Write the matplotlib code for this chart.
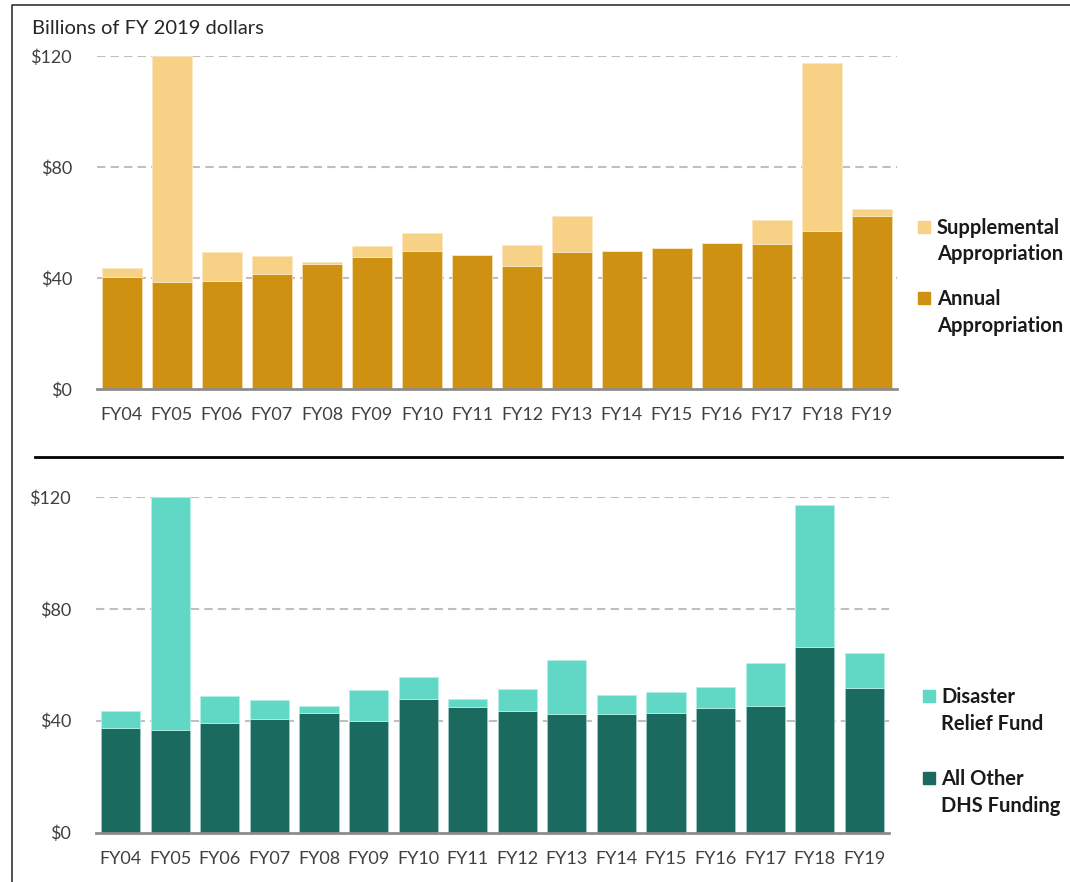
import numpy as np
import matplotlib.pyplot as plt
from matplotlib.patches import Rectangle
from matplotlib.lines import Line2D

plt.rcParams['font.family'] = ['Lato', 'DejaVu Sans']

years = ['FY04', 'FY05', 'FY06', 'FY07', 'FY08', 'FY09', 'FY10', 'FY11',
         'FY12', 'FY13', 'FY14', 'FY15', 'FY16', 'FY17', 'FY18', 'FY19']

# top panel, billions of FY 2019 dollars
annual = [40.3, 38.6, 38.9, 41.6, 45.0, 47.4, 49.6, 48.4,
          44.4, 49.3, 49.6, 50.9, 52.6, 52.3, 56.9, 62.2]
top_total = [43.6, 120.0, 49.3, 47.9, 45.6, 51.4, 56.1, 48.4,
             51.8, 62.2, 49.6, 50.9, 52.6, 60.8, 117.5, 64.8]
supplemental = [t - a for t, a in zip(top_total, annual)]

# bottom panel
other_dhs = [37.2, 36.5, 39.3, 40.6, 42.9, 39.8, 47.9, 44.9,
             43.6, 42.4, 42.4, 42.9, 44.6, 45.3, 66.4, 51.8]
bottom_total = [43.3, 120.0, 48.7, 47.5, 45.3, 50.9, 55.6, 47.9,
                51.3, 61.6, 49.2, 50.4, 52.2, 60.8, 117.1, 64.2]
drf = [t - o for t, o in zip(bottom_total, other_dhs)]

yticks = [0, 40, 80, 120]
ytick_labels = ['$0', '$40', '$80', '$120']

c_supp = '#F7D186'
c_annual = '#CF9111'
c_drf = '#60D8C5'
c_other = '#1B6A5F'
tick_color = '#404040'

W, H = 1070, 882
fig = plt.figure(figsize=(W / 100, H / 100), dpi=100)

ax1 = fig.add_axes([97 / W, 1 - 389 / H, 800 / W, 333 / H])
ax2 = fig.add_axes([96 / W, 1 - 832.5 / H, 793 / W, 335.5 / H])

x = np.arange(len(years))


def style(ax):
    ax.set_xlim(-0.5, len(years) - 0.5)
    ax.set_ylim(0, 120)
    ax.set_yticks(yticks)
    ax.set_yticklabels(ytick_labels)
    ax.set_xticks(x)
    ax.set_xticklabels(years)
    for s in ['top', 'right', 'left']:
        ax.spines[s].set_visible(False)
    ax.spines['bottom'].set_color('#8c8c8c')
    ax.spines['bottom'].set_linewidth(2)
    ax.spines['bottom'].set_zorder(5)
    ax.tick_params(length=0, labelsize=13, colors=tick_color)
    ax.tick_params(axis='y', pad=18)
    ax.tick_params(axis='x', pad=13)
    for v in yticks[1:]:
        ax.axhline(v, color='#bfbfbf', lw=1.5, ls=(0, (4, 2.5)), zorder=0)


bw = 0.79
ax1.bar(x, annual, bw, color=c_annual, edgecolor='#f3dcae', lw=0.6, zorder=2)
ax1.bar(x, supplemental, bw, bottom=annual, color=c_supp, edgecolor='#fbe8c0',
        lw=0.6, zorder=2)
style(ax1)

ax2.bar(x, other_dhs, bw, color=c_other, edgecolor='#9fc9c2', lw=0.6, zorder=2)
ax2.bar(x, drf, bw, bottom=other_dhs, color=c_drf, edgecolor='#b5efe5',
        lw=0.6, zorder=2)
style(ax2)

fig.text(32 / W, 1 - 28 / H, 'Billions of FY 2019 dollars', fontsize=14.5,
         color='#262626', va='center', ha='left')


# legends drawn by hand so the square sits on the first line
def legend_item(px, py, color, lines, gap=19):
    fig.add_artist(Rectangle((px / W, 1 - (py + 6) / H), 12 / W, 12 / H,
                             transform=fig.transFigure, color=color))
    for k, line in enumerate(lines):
        fig.text((px + gap) / W, 1 - (py + 1 + 26.5 * k) / H, line,
                 fontsize=14.5, fontweight='bold', color='#1a1a1a',
                 va='center', ha='left')


legend_item(918, 227, c_supp, ['Supplemental', 'Appropriation'])
legend_item(918, 298, c_annual, ['Annual', 'Appropriation'])
legend_item(923, 696, c_drf, ['Disaster', 'Relief Fund'], gap=18)
legend_item(923, 778, c_other, ['All Other', 'DHS Funding'], gap=18)

# separator and outer frame
fig.add_artist(Line2D([35 / W, 1062 / W], [1 - 456.5 / H, 1 - 456.5 / H],
                      color='black', lw=2, transform=fig.transFigure))
fig.add_artist(Line2D([12 / W, 12 / W, 1070 / W], [0, 1 - 5 / H, 1 - 5 / H],
                      color='#333333', lw=1.2, transform=fig.transFigure))

fig.savefig('out.png', dpi=100)
